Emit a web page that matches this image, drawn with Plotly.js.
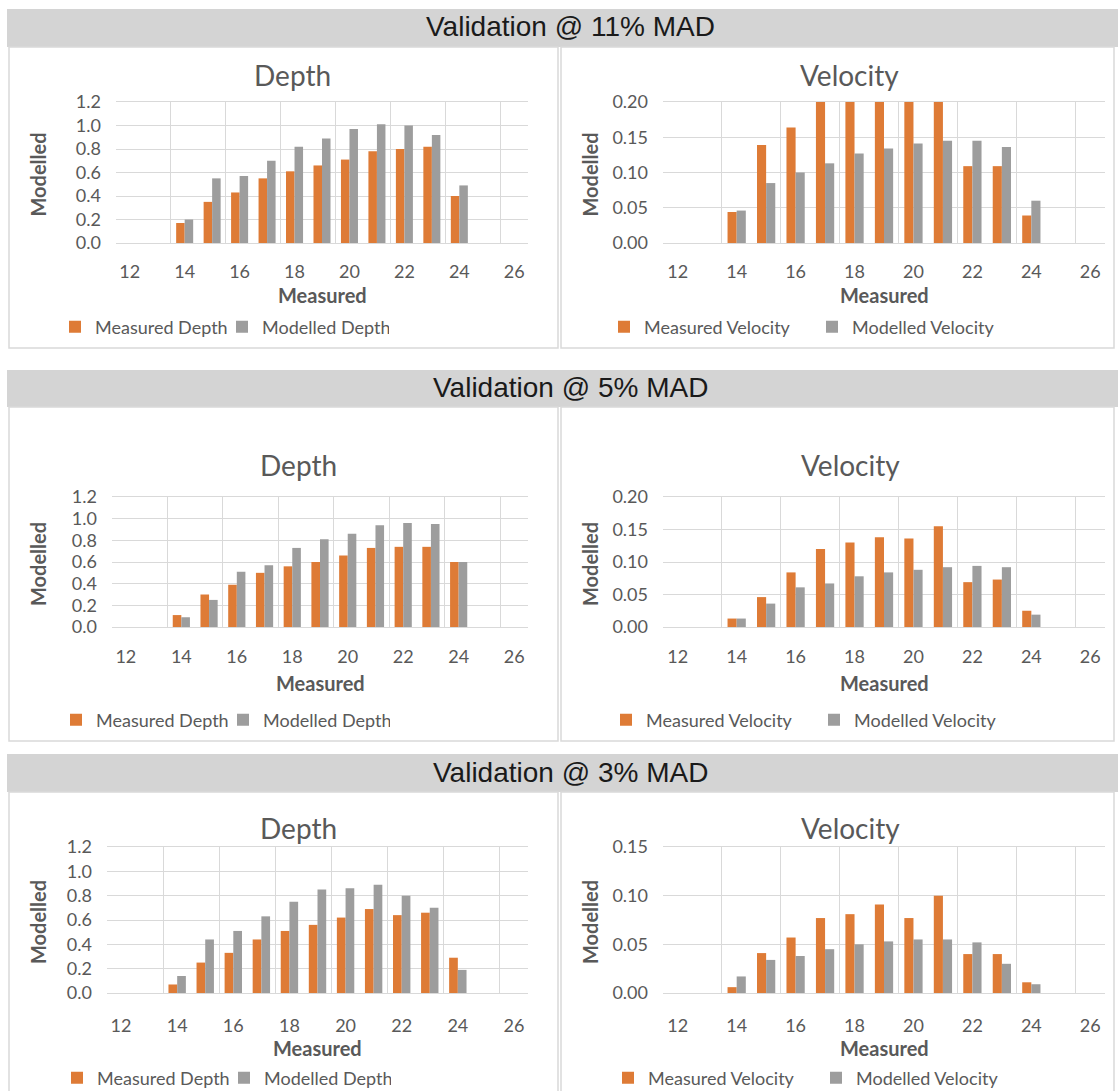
<!DOCTYPE html>
<html>
<head>
<meta charset="utf-8">
<script src="https://cdn.plot.ly/plotly-3.0.1.min.js"></script>
<style>
  html, body { margin: 0; padding: 0; background: #ffffff; overflow: hidden; }
  #chart { width: 1118px; height: 1091px; }
</style>
</head>
<body>
<div id="chart"></div>
<script>
// ---------------- DATA ----------------
const axisCategories = ['12','13','14','15','16','17','18','19','20','21','22','23','24','25','26'];
const measuredCategories = ['14','15','16','17','18','19','20','21','22','23','24'];

const sectionTitles = ['Validation @ 11% MAD', 'Validation @ 5% MAD', 'Validation @ 3% MAD'];
const panelTitles = ['Depth', 'Velocity'];

// 11% MAD
const depth11Measured   = [0.17, 0.35, 0.43, 0.55, 0.61, 0.66, 0.71, 0.78, 0.80, 0.82, 0.40];
const depth11Modelled   = [0.20, 0.55, 0.57, 0.70, 0.82, 0.89, 0.97, 1.01, 1.00, 0.92, 0.49];
const velocity11Measured = [0.044, 0.139, 0.164, 0.21, 0.23, 0.24, 0.24, 0.26, 0.109, 0.109, 0.039];
const velocity11Modelled = [0.046, 0.085, 0.100, 0.113, 0.127, 0.134, 0.141, 0.145, 0.145, 0.136, 0.060];

// 5% MAD
const depth5Measured   = [0.11, 0.30, 0.39, 0.50, 0.56, 0.60, 0.66, 0.73, 0.74, 0.74, 0.60];
const depth5Modelled   = [0.09, 0.25, 0.51, 0.57, 0.73, 0.81, 0.86, 0.94, 0.96, 0.95, 0.60];
const velocity5Measured = [0.013, 0.046, 0.084, 0.120, 0.130, 0.138, 0.136, 0.155, 0.069, 0.073, 0.025];
const velocity5Modelled = [0.013, 0.036, 0.061, 0.067, 0.078, 0.084, 0.088, 0.092, 0.094, 0.092, 0.019];

// 3% MAD
const depth3Measured   = [0.07, 0.25, 0.33, 0.44, 0.51, 0.56, 0.62, 0.69, 0.64, 0.66, 0.29];
const depth3Modelled   = [0.14, 0.44, 0.51, 0.63, 0.75, 0.85, 0.86, 0.89, 0.80, 0.70, 0.19];
const velocity3Measured = [0.006, 0.041, 0.057, 0.077, 0.081, 0.091, 0.077, 0.100, 0.040, 0.040, 0.011];
const velocity3Modelled = [0.017, 0.034, 0.038, 0.045, 0.050, 0.053, 0.055, 0.055, 0.052, 0.030, 0.009];

const depthTicks = [0, 0.2, 0.4, 0.6, 0.8, 1.0, 1.2];

// ---------------- STYLE / GEOMETRY ----------------
const W = 1118, H = 1091;
const fx = x => x / W;
const fy = y => 1 - y / H;

const ORANGE = '#DE7B36';
const GREY = '#9D9D9D';
const GRID = '#D9D9D9';
const TXT = '#595959';
const FONT = 'Lato, "Open Sans", sans-serif';

const sections = [
  {band: [9, 47],   box: [47, 348],  plotTop: 102, plotBottom: 243, title: 75,  tickStand: 12, xTitle: 295, legendY: 327,
   left: {x0: 116, x1: 528, yTitleX: 38, legX: 55, titleX: 292},  right: {x0: 663, x1: 1105, yTitleX: 590, legX: 604, titleX: 849}},
  {band: [370, 407], box: [407, 741], plotTop: 497, plotBottom: 627, title: 465, tickStand: 13, xTitle: 683, legendY: 720,
   left: {x0: 112, x1: 528, yTitleX: 38, legX: 56, titleX: 298},  right: {x0: 663, x1: 1105, yTitleX: 590, legX: 606, titleX: 850}},
  {band: [754, 792], box: [792, 1100], plotTop: 847, plotBottom: 993, title: 828, tickStand: 16, xTitle: 1048, legendY: 1078,
   left: {x0: 107, x1: 528, yTitleX: 38, legX: 57, titleX: 298},  right: {x0: 663, x1: 1105, yTitleX: 590, legX: 608, titleX: 850}}
];

const panelData = [
  {measured: depth11Measured, modelled: depth11Modelled, kind: 'Depth'},
  {measured: velocity11Measured, modelled: velocity11Modelled, kind: 'Velocity', range: [0, 0.2], dtick: 0.05},
  {measured: depth5Measured, modelled: depth5Modelled, kind: 'Depth'},
  {measured: velocity5Measured, modelled: velocity5Modelled, kind: 'Velocity', range: [0, 0.2], dtick: 0.05},
  {measured: depth3Measured, modelled: depth3Modelled, kind: 'Depth'},
  {measured: velocity3Measured, modelled: velocity3Modelled, kind: 'Velocity', range: [0, 0.15], dtick: 0.05}
];

const traces = [];
const layout = {
  width: W, height: H,
  margin: {l: 0, r: 0, t: 0, b: 0, autoexpand: false},
  paper_bgcolor: '#ffffff',
  plot_bgcolor: '#ffffff',
  font: {family: FONT, color: TXT, size: 18},
  barmode: 'group',
  bargap: 0.38,
  bargroupgap: 0,
  showlegend: true,
  shapes: [],
  annotations: []
};

panelData.forEach((p, i) => {
  const s = sections[Math.floor(i / 2)];
  const side = (i % 2 === 0) ? s.left : s.right;
  const n = i + 1;
  const xa = n === 1 ? 'x' : 'x' + n;
  const ya = n === 1 ? 'y' : 'y' + n;
  const legName = n === 1 ? 'legend' : 'legend' + n;

  traces.push({
    type: 'bar', x: measuredCategories, y: p.measured, name: 'Measured ' + p.kind,
    marker: {color: ORANGE}, xaxis: xa, yaxis: ya, legend: legName, hoverinfo: 'x+y+name'
  });
  traces.push({
    type: 'bar', x: measuredCategories, y: p.modelled, name: 'Modelled ' + p.kind,
    marker: {color: GREY}, xaxis: xa, yaxis: ya, legend: legName, hoverinfo: 'x+y+name'
  });

  const xKey = n === 1 ? 'xaxis' : 'xaxis' + n;
  const yKey = n === 1 ? 'yaxis' : 'yaxis' + n;

  layout[xKey] = {
    type: 'category',
    categoryorder: 'array',
    categoryarray: axisCategories,
    range: [-0.5, axisCategories.length - 0.5],
    tickmode: 'linear', tick0: 0, dtick: 2,
    tickson: 'boundaries',
    ticks: '',
    showgrid: true, gridcolor: GRID, gridwidth: 1,
    showline: true, linecolor: GRID, linewidth: 1, mirror: true,
    zeroline: false,
    tickfont: {family: FONT, size: 18, color: TXT},
    ticklabelstandoff: s.tickStand,
    domain: [fx(side.x0), fx(side.x1)],
    anchor: ya,
    automargin: false,
    fixedrange: true
  };

  const isDepth = p.kind === 'Depth';
  layout[yKey] = {
    range: isDepth ? [0, 1.2] : p.range,
    tickmode: isDepth ? 'array' : 'linear',
    tickvals: isDepth ? depthTicks : undefined,
    tick0: 0, dtick: isDepth ? 0.2 : p.dtick,
    tickformat: isDepth ? '.1f' : '.2f',
    showgrid: true, gridcolor: GRID, gridwidth: 1,
    zeroline: false,
    showline: false,
    ticks: '',
    ticklabelstandoff: 14,
    tickfont: {family: FONT, size: 18, color: TXT},
    domain: [fy(s.plotBottom), fy(s.plotTop)],
    anchor: xa,
    automargin: false,
    fixedrange: true
  };

  // panel title
  layout.annotations.push({
    text: panelTitles[i % 2], xref: 'paper', yref: 'paper',
    x: fx(side.titleX), y: fy(s.title),
    xanchor: 'center', yanchor: 'middle', showarrow: false,
    font: {family: FONT, size: 28, color: TXT}
  });
  // x axis title
  layout.annotations.push({
    text: '<b>Measured</b>', xref: 'paper', yref: 'paper',
    x: fx((side.x0 + side.x1) / 2), y: fy(s.xTitle),
    xanchor: 'center', yanchor: 'middle', showarrow: false,
    font: {family: FONT, size: 20, color: TXT}
  });
  // y axis title
  layout.annotations.push({
    text: '<b>Modelled</b>', xref: 'paper', yref: 'paper',
    x: fx(side.yTitleX), y: fy((s.plotTop + s.plotBottom) / 2 + 2),
    xanchor: 'center', yanchor: 'middle', showarrow: false, textangle: -90,
    font: {family: FONT, size: 20, color: TXT}
  });

  layout[legName] = {
    orientation: 'h',
    x: fx(side.legX), y: fy(s.legendY),
    xanchor: 'left', yanchor: 'middle',
    bgcolor: 'rgba(0,0,0,0)',
    font: {family: FONT, size: 18, color: TXT},
    entrywidth: isDepth ? 122 : 163,
    entrywidthmode: 'pixels',
    itemclick: false, itemdoubleclick: false,
    traceorder: 'normal'
  };
});

// section header bands, titles and panel borders
sections.forEach((s, k) => {
  layout.shapes.push({
    type: 'rect', xref: 'paper', yref: 'paper', layer: 'below',
    x0: fx(7), x1: 1, y0: fy(s.band[1]), y1: fy(s.band[0]),
    fillcolor: '#D4D4D4', line: {width: 0}
  });
  layout.shapes.push({
    type: 'rect', xref: 'paper', yref: 'paper', layer: 'below',
    x0: fx(9), x1: fx(558), y0: fy(s.box[1]), y1: fy(s.box[0]),
    fillcolor: 'rgba(0,0,0,0)', line: {width: 1.5, color: GRID}
  });
  layout.shapes.push({
    type: 'rect', xref: 'paper', yref: 'paper', layer: 'below',
    x0: fx(561), x1: fx(1114), y0: fy(s.box[1]), y1: fy(s.box[0]),
    fillcolor: 'rgba(0,0,0,0)', line: {width: 1.5, color: GRID}
  });
  layout.annotations.push({
    text: sectionTitles[k], xref: 'paper', yref: 'paper',
    x: fx(570), y: fy((s.band[0] + s.band[1]) / 2 - 1),
    xanchor: 'center', yanchor: 'middle', showarrow: false,
    font: {family: '"Liberation Sans", Arial, sans-serif', size: 28, color: '#1A1A1A'}
  });
});

Plotly.newPlot('chart', traces, layout, {displayModeBar: false, responsive: false, staticPlot: false});
</script>
</body>
</html>
